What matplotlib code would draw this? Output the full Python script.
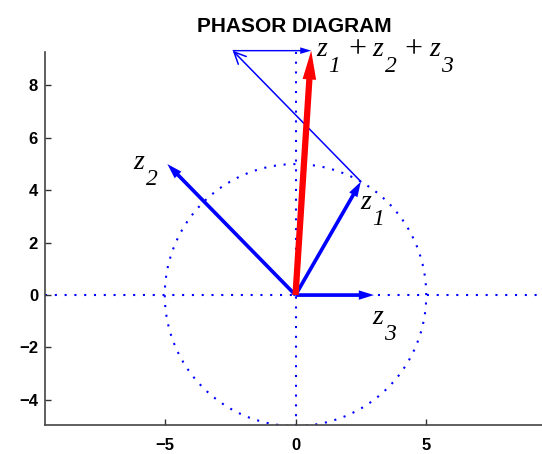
import numpy as np
import matplotlib
matplotlib.use("Agg")
import matplotlib.pyplot as plt
from matplotlib.patches import FancyArrowPatch

plt.rcParams['font.family'] = ['Liberation Sans', 'DejaVu Sans']

# Phasors (real, imaginary)
phasor_names = ['1', '2', '3']
phasor_re = [2.5, -4.9, 3.0]
phasor_im = [4.33, 5.0, 0.0]
circle_radius = 5.0
x_ticks = [-5, 0, 5]
y_ticks = [-4, -2, 0, 2, 4, 6, 8]

z = np.array(phasor_re) + 1j * np.array(phasor_im)
zsum = z.sum()

W, H = 542, 454
fig = plt.figure(figsize=(W / 100, H / 100), dpi=100)
x0, x1 = -9.58, 9.45
y0, y1 = -4.96, 9.29
left_px, bottom_px, top_px = 45, 425, 51.7
ppu = 26.15
ax = fig.add_axes([left_px / W, 1 - bottom_px / H, (x1 - x0) * ppu / W, (bottom_px - top_px) / H])
ax.set_xlim(x0, x1)
ax.set_ylim(y0, y1)

dot = (0, (1, 3.7))
blue = '#0000ff'
red = '#ff0000'
# dotted axes and circle
ax.plot([x0, x1], [0, 0], color=blue, lw=1.5, linestyle=dot, zorder=1)
ax.plot([0, 0], [-circle_radius, y1], color=blue, lw=1.5, linestyle=dot, zorder=1)
th = np.linspace(0, 2 * np.pi, 400)
ax.plot(circle_radius * np.cos(th), circle_radius * np.sin(th), color=blue, lw=1.5,
        linestyle=dot, zorder=1)

def farrow(p0, p1, color, width, hw, hl, zo=3):
    d = p1 - p0
    ax.arrow(p0.real, p0.imag, d.real, d.imag, width=width, head_width=hw,
             head_length=hl, length_includes_head=True, lw=0, facecolor=color,
             edgecolor='none', zorder=zo, clip_on=False)

# individual phasors from the origin
for zk in z:
    farrow(0j, zk, blue, 0.14, 0.36, 0.58)

# head-to-tail chain
a = FancyArrowPatch(((z[0]).real, z[0].imag), ((z[0] + z[1]).real, (z[0] + z[1]).imag),
                    arrowstyle='->,head_length=0.85,head_width=0.4', mutation_scale=10,
                    color=blue, lw=1.1, shrinkA=0, shrinkB=0, zorder=3, clip_on=False)
ax.add_patch(a)
farrow(z[0] + z[1], zsum, blue, 0.055, 0.25, 0.42)

# resultant
farrow(0j, zsum, red, 0.24, 0.52, 1.1, zo=4)

# labels: z with dropped subscripts (pixel offsets)
F, f = 20, 17
DROP = 16
def label(xd, yd, pieces):
    for txt, dx, dy, size, sty in pieces:
        ax.annotate(txt, xy=(xd, yd), xytext=(dx * 0.72, -dy * 0.72),
                    textcoords='offset points', ha='left', va='baseline',
                    fontsize=size, family='Liberation Serif', style=sty,
                    annotation_clip=False)

def px2data(px, py):
    return (px - 295) / 26.15, (295 - py) / 26.2

for name, (px, py) in zip(phasor_names, [(360, 209), (133, 169), (372, 324)]):
    xd, yd = px2data(px, py)
    label(xd, yd, [('z', 0, 0, F, 'italic'), (name, 12, DROP, f, 'italic')])

xd, yd = px2data(316, 56)
label(xd, yd, [('z', 0, 0, F, 'italic'), ('1', 12, DROP, f, 'italic'),
               ('+', 32, 1, 23, 'normal'),
               ('z', 56, 0, F, 'italic'), ('2', 68, DROP, f, 'italic'),
               ('+', 88, 1, 23, 'normal'),
               ('z', 113, 0, F, 'italic'), ('3', 125, DROP, f, 'italic')])

ax.set_title('PHASOR DIAGRAM', fontweight='bold', fontsize=15, pad=14)

ax.set_xticks(x_ticks)
ax.set_xticklabels([('\u2212%d' % -v) if v < 0 else str(v) for v in x_ticks])
ax.set_yticks(y_ticks)
ax.set_yticklabels([('\u2212%d' % -v) if v < 0 else str(v) for v in y_ticks])
for lbl in ax.get_xticklabels() + ax.get_yticklabels():
    lbl.set_fontweight('bold')
    lbl.set_fontsize(12)
ax.tick_params(direction='in', length=4, width=1, color='#333333')
ax.tick_params(axis='x', pad=9)
ax.tick_params(axis='y', pad=5)
for s in ['top', 'right']:
    ax.spines[s].set_visible(False)
for s in ['left', 'bottom']:
    ax.spines[s].set_color('#444444')
    ax.spines[s].set_linewidth(1.2)

fig.savefig('out.png', dpi=100)
